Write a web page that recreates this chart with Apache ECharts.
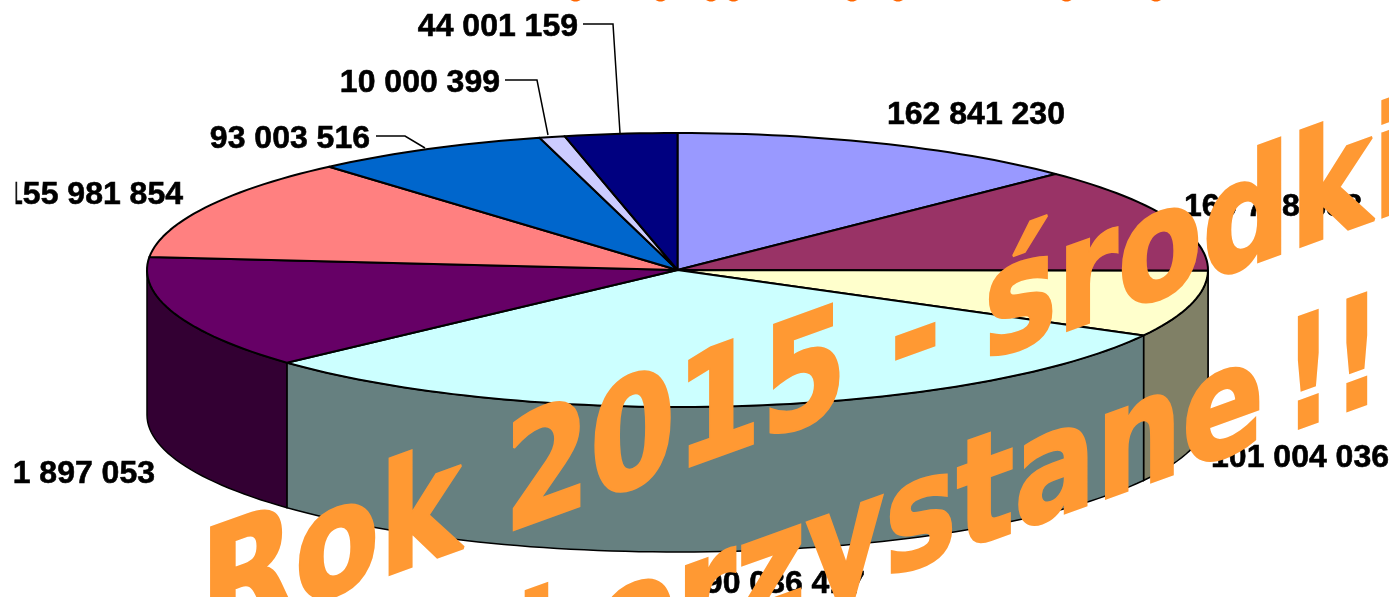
<!DOCTYPE html>
<html>
<head>
<meta charset="utf-8">
<title>Rok 2015</title>
<style>
html, body { margin: 0; padding: 0; background: #fff; }
#main { width: 1389px; height: 597px; }
</style>
<script src="https://cdn.jsdelivr.net/npm/echarts@6/dist/echarts.min.js"></script>
</head>
<body>
<div id="main"></div>
<script>
// slices, clockwise from 12 o'clock
var sliceValues = [162841230, 160708638, 101004036, 390036417, 171897053, 155981854, 93003516, 10000399, 44001159];
var sliceLabels = ['162 841 230', '160 708 638', '101 004 036', '390 036 417', '1 897 053', '155 981 854', '93 003 516', '10 000 399', '44 001 159'];
var topColors = ['#9999FF', '#993366', '#FFFFCC', '#CCFFFF', '#660066', '#FF8080', '#0066CC', '#CCCCFF', '#000080'];
var sideColors = ['#4D4D80', '#4D1A33', '#808066', '#668080', '#330033', '#804040', '#003366', '#666680', '#000040'];

var watermarkLine1 = 'Rok 2015 - środki';
var watermarkLine2 = 'niewykorzystane';
var watermarkMarks = '!!!';

// pie geometry
var cx = 677.5, cy = 270, rx = 530.5, ry = 137, depth = 145;
var lineColor = '#000';
var orange = '#FF9933';

// label placement: x, y, align, leader line
var labelLayout = [
    { x: 887, y: 115, align: 'left' },
    { x: 1184, y: 207, align: 'left' },
    { x: 1389, y: 458, align: 'right' },
    { x: 865, y: 584, align: 'right' },
    { x: 155, y: 474, align: 'right' },
    { x: 183, y: 195, align: 'right' },
    { x: 370, y: 139, align: 'right', leader: [[376, 136], [405, 136], [425, 148]] },
    { x: 500, y: 83, align: 'right', leader: [[505, 80], [537, 80], [548, 135]] },
    { x: 578, y: 27, align: 'right', leader: [[583, 24], [613, 24], [620, 133]] }
];

// bottoms of the cut off heading along the top edge
var headingBits = [575.5, 660.5, 711, 733.5, 852, 898, 1066.5, 1156];

var total = sliceValues.reduce(function(a, b) { return a + b; }, 0);

// start and end angle of a slice in degrees, clockwise from the top
function sliceAngles(index) {
    var sum = 0;
    for (var i = 0; i < index; i++) {
        sum += sliceValues[i];
    }
    return [sum / total * 360, (sum + sliceValues[index]) / total * 360];
}

function rimPoint(deg, offset) {
    var rad = deg * Math.PI / 180;
    return [cx + rx * Math.sin(rad), cy - ry * Math.cos(rad) + (offset || 0)];
}

function arcPoints(from, to, offset) {
    var pts = [];
    var steps = Math.max(2, Math.ceil((to - from) / 1.5));
    for (var i = 0; i <= steps; i++) {
        pts.push(rimPoint(from + (to - from) * i / steps, offset));
    }
    return pts;
}

// front wall of a slice, only the part between 90 and 270 degrees shows
function renderSide(params, api) {
    var index = api.value(0);
    var a = sliceAngles(index);
    var from = Math.max(a[0], 90), to = Math.min(a[1], 270);
    if (to <= from) return null;
    var points = arcPoints(from, to, 0).concat(arcPoints(from, to, depth).reverse());
    return {
        type: 'polygon',
        shape: { points: points },
        style: { fill: sideColors[index], stroke: lineColor, lineWidth: 1.5 }
    };
}

function renderTop(params, api) {
    var index = api.value(0);
    var a = sliceAngles(index);
    var points = [[cx, cy]].concat(arcPoints(a[0], a[1], 0));
    return {
        type: 'polygon',
        shape: { points: points },
        style: { fill: topColors[index], stroke: lineColor, lineWidth: 2, lineJoin: 'round' }
    };
}

function renderLabel(params, api) {
    var index = api.value(0);
    var layout = labelLayout[index];
    var children = [{
        type: 'text',
        style: {
            x: layout.x,
            y: layout.y,
            text: sliceLabels[index],
            font: 'bold 32px "Liberation Sans"',
            fill: '#000',
            stroke: '#000',
            lineWidth: 0.6,
            align: layout.align,
            verticalAlign: 'middle'
        }
    }];
    if (layout.leader) {
        children.push({
            type: 'polyline',
            shape: { points: layout.leader },
            style: { fill: 'none', stroke: lineColor, lineWidth: 1.5 }
        });
    }
    return { type: 'group', children: children };
}

function watermark(text, x, y, scaleX) {
    return {
        type: 'text',
        x: x,
        y: y,
        scaleX: scaleX,
        skewY: Math.atan(0.36),
        z: 20,
        style: {
            x: 0,
            y: 0,
            text: text,
            font: 'bold 152px "DejaVu Sans"',
            fill: orange,
            stroke: orange,
            lineWidth: 3,
            align: 'left',
            verticalAlign: 'bottom'
        }
    };
}

var sliceData = sliceValues.map(function(v, i) { return [i, v]; });

var graphicElements = [
    // the slide covers the far left of the labels
    { type: 'rect', z: 10, shape: { x: 0, y: 150, width: 15.5, height: 80 }, style: { fill: '#fff' } },
    watermark(watermarkLine1, 200, 679, 0.81),
    watermark(watermarkLine2, 116, 891, 0.795),
    watermark(watermarkMarks, 1284, 470, 0.7)
];
headingBits.forEach(function(x) {
    graphicElements.push({
        type: 'ellipse',
        z: 20,
        shape: { cx: x, cy: -2, rx: 6, ry: 3.5 },
        style: { fill: '#FF6600' }
    });
});

var myChart = echarts.init(document.getElementById('main'));
var option = {
    animation: false,
    graphic: { elements: graphicElements },
    series: [
        { type: 'custom', coordinateSystem: 'none', renderItem: renderSide, data: sliceData, z: 1, silent: true },
        { type: 'custom', coordinateSystem: 'none', renderItem: renderTop, data: sliceData, z: 2, silent: true },
        { type: 'custom', coordinateSystem: 'none', renderItem: renderLabel, data: sliceData, z: 3, silent: true }
    ]
};
myChart.setOption(option);
</script>
</body>
</html>
